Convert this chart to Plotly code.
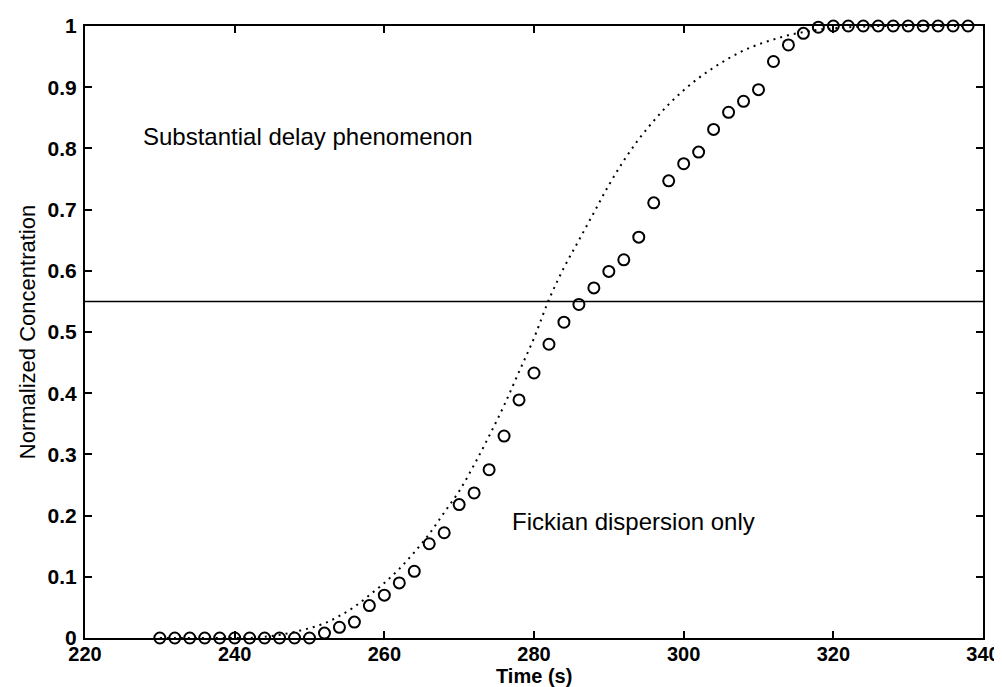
import plotly.graph_objects as go

# Measured breakthrough data (circles)
time_obs = list(range(230, 340, 2))
conc_obs = [0, 0, 0, 0, 0, 0, 0, 0, 0, 0, 0,
            0.008, 0.0175, 0.026, 0.053, 0.07, 0.09, 0.109, 0.154, 0.172, 0.218,
            0.237, 0.275, 0.33, 0.389, 0.433, 0.48, 0.516, 0.545, 0.572, 0.599,
            0.618, 0.655, 0.711, 0.747, 0.775, 0.794, 0.831, 0.859, 0.877, 0.896,
            0.942, 0.969, 0.988, 0.998, 1, 1, 1, 1, 1, 1, 1, 1, 1, 1, 1]

# Fickian dispersion model curve (dotted)
time_model = list(range(230, 340, 2))
conc_model = [0, 0, 0, 0, 0, 0, 0, 0.002, 0.005, 0.01, 0.016,
              0.024, 0.036, 0.051, 0.07, 0.09, 0.113, 0.14, 0.17, 0.205, 0.24,
              0.283, 0.33, 0.38, 0.435, 0.49, 0.553, 0.605, 0.65, 0.695, 0.74,
              0.78, 0.815, 0.845, 0.872, 0.895, 0.915, 0.932, 0.947, 0.96, 0.97,
              0.978, 0.985, 0.99, 0.994, 0.996, 0.998, 0.999, 1, 1, 1, 1, 1, 1, 1, 1]

threshold = 0.55
x_ticks = [220, 240, 260, 280, 300, 320, 340]
y_ticks = [0, 0.1, 0.2, 0.3, 0.4, 0.5, 0.6, 0.7, 0.8, 0.9, 1]
y_tick_text = ["0", "0.1", "0.2", "0.3", "0.4", "0.5", "0.6", "0.7", "0.8", "0.9", "1"]

FONT = "Liberation Sans, Arial, sans-serif"

fig = go.Figure()
fig.add_trace(go.Scatter(
    x=time_model, y=conc_model, mode="lines", line_shape="spline",
    line=dict(color="black", width=2, dash="2px,5px"),
    cliponaxis=False, showlegend=False))
fig.add_trace(go.Scatter(
    x=time_obs, y=conc_obs, mode="markers",
    marker=dict(symbol="circle-open", size=11, color="black", line=dict(width=2, color="black")),
    cliponaxis=False, showlegend=False))
fig.add_hline(y=threshold, line=dict(color="black", width=1.5))

fig.add_annotation(x=249.8, y=0.82, text="Substantial delay phenomenon", showarrow=False,
                   font=dict(family=FONT, size=24, color="black"))
fig.add_annotation(x=293.3, y=0.19, text="Fickian dispersion only", showarrow=False,
                   font=dict(family=FONT, size=24, color="black"))
# x-axis title
fig.add_annotation(x=0.5, y=0, xref="paper", yref="paper", yanchor="middle", yshift=-38,
                   text="<b>Time (s)</b>", showarrow=False,
                   font=dict(family=FONT, size=20, color="black"))

axis_common = dict(showgrid=False, zeroline=False, showline=True, linecolor="black",
                   linewidth=2, mirror="ticks", ticks="inside", ticklen=7,
                   tickcolor="black", tickwidth=1.5, automargin=False)
fig.update_xaxes(range=[220, 340], tickvals=x_ticks,
                 tickfont=dict(family=FONT, size=20, color="black", weight="bold"),
                 ticklabelstandoff=-3,
                 **axis_common)
fig.update_yaxes(range=[0, 1], tickvals=y_ticks, ticktext=y_tick_text,
                 title=dict(text="Normalized Concentration", standoff=6,
                            font=dict(family=FONT, size=22, color="black")),
                 tickfont=dict(family=FONT, size=21, color="black", weight="bold"),
                 ticklabelstandoff=2,
                 **axis_common)
fig.update_layout(width=1002, height=687, plot_bgcolor="white", paper_bgcolor="white",
                  margin=dict(l=77, r=27, t=18, b=57))
fig.write_html("out.html")
